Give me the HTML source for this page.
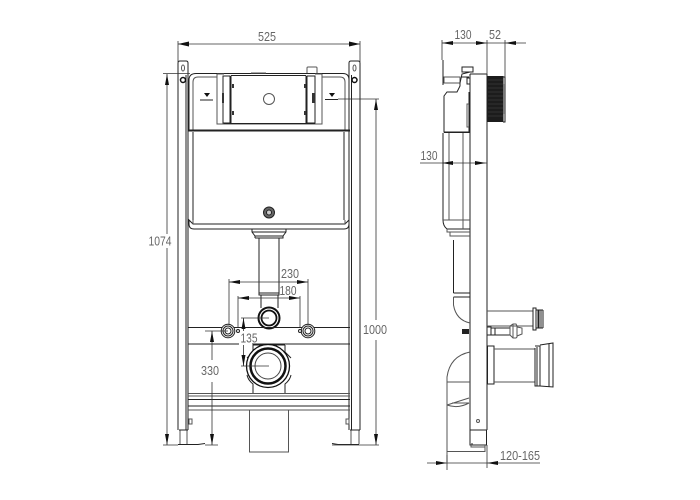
<!DOCTYPE html>
<html><head><meta charset="utf-8"><style>
html,body{margin:0;padding:0;background:#fff}
svg{display:block;filter:blur(.3px)}
text{font-family:"Liberation Sans",sans-serif;font-size:12.500px;fill:#666;text-anchor:middle}
.g{fill:none;stroke:#555;stroke-width:1}
.k{fill:none;stroke:#222;stroke-width:1}
.t{fill:none;stroke:#222;stroke-width:2}
.d{fill:none;stroke:#333;stroke-width:.8}
.a{fill:#111;stroke:none}
.w{fill:#fff;stroke:none}
</style></head><body>
<svg width="700" height="500" viewBox="0 0 700 500" xmlns="http://www.w3.org/2000/svg">
<!-- FRONT frame -->
<g class="k">
<path d="M178 73V430M188 66V430M186 75V430M349 66V430M360 73V430M351.500 75V430"/>
<path d="M178 73V63Q178 61 180 61H186Q188 61 188 63V73M349 73V63Q349 61 351 61H358Q360 61 360 63V73"/>
<path class="g" d="M180 430V444M187 430V444M351 430V444M359 430V444"/>
<path d="M179 430H188M350 430H360"/>
<path d="M178 444.500H198L205 443.500M332 443.500L338 444.500H359" />
<rect x="189" y="419" width="3" height="5" class="g"/><rect x="346" y="419" width="3" height="5" class="g"/>
</g>
<circle cx="183" cy="80" r="2.500" fill="#fff" stroke="#111" stroke-width="1.500"/>
<circle cx="354.500" cy="80" r="2.500" fill="#fff" stroke="#111" stroke-width="1.500"/>
<ellipse cx="183" cy="68" rx="1.500" ry="3" class="g"/><ellipse cx="354.500" cy="68" rx="1.500" ry="3" class="g"/>
<!-- tank -->
<path class="k" d="M189 130V80Q189 73.500 196 73.500H343Q349 73.500 349 80V130"/>
<path class="g" d="M193 130V82Q193 77 198 77H217M322 77H340Q345 77 345 82V130"/>
<path class="t" d="M188 130.500H350"/>
<path class="k" d="M193 132V220M344 132V220"/>
<path class="k" d="M189 220V224Q189 229 194 229H344Q349 229 349 224V220L345 224H193L189 220Z"/>
<path class="g" d="M193 220V224M345 220V224"/>
<path class="g" d="M251 73H266" stroke-width="1.500"/>
<path class="g" d="M307 73V68Q307 67 308 67H316Q317 67 317 68V73"/>
<!-- control panel -->
<path class="g" d="M217 74V124H322V74M217 74H224M315 74H322"/>
<path class="k" d="M223 76V123H230V76ZM307 76V123H315V76Z"/>
<path class="k" d="M231 75.500H306M224 123.500H315" stroke-width="1.300"/>
<path class="k" d="M231 76V123M306 76V123" stroke-width="1.300"/>
<circle cx="269" cy="99" r="5.500" class="g"/>
<path d="M232 84h2v4h-2zM232 111h2v4h-2zM304 84h2v4h-2zM304 111h2v4h-2z" fill="#333"/>
<path d="M222 93h2v10h-2zM312 93h3v10h-3z" fill="#333"/>
<path class="k" d="M200 100H213M325 99.500H338" stroke-width="1.200"/>
<path class="a" d="M204 93H210L207 97ZM329 93H335L332 97Z"/>
<circle cx="269" cy="212.500" r="5.500" fill="#666" stroke="#222"/>
<circle cx="269" cy="212.500" r="2.500" fill="#ccc" stroke="#222"/>
<!-- drain -->
<path class="k" d="M252 229V232L255 236H283L286 232V229M252 232H286M255 238H283V236M255 236V238"/>
<path class="k" d="M259 238V295H279V238M259 293H279"/>
<path class="k" d="M261 295V308M278 295V308"/>
<circle cx="269" cy="318" r="10.500" fill="#fff" stroke="#111" stroke-width="2"/>
<circle cx="269" cy="318" r="7.500" fill="#fff" stroke="#111" stroke-width="1.800"/>
<!-- bar -->
<path class="k" d="M188 327.500H350" stroke-width="1.500"/>
<path class="k" d="M188 344H239M252 344H350" stroke-width="1.500"/>
<g fill="#fff" stroke="#222">
<circle cx="228" cy="331" r="6.800"/><circle cx="228" cy="331" r="5"/><circle cx="228" cy="331" r="3"/>
<circle cx="308" cy="331" r="6.800"/><circle cx="308" cy="331" r="5"/><circle cx="308" cy="331" r="3"/>
<circle cx="238" cy="331" r="1.500"/><circle cx="300" cy="331" r="1.500"/>
</g>
<!-- large outlet -->
<path class="k" d="M253 345V352H285V345M253 345H285M247 375Q248 380 253 384V393M291 375Q290 380 285 384V393M247 358L253 352M291 358L285 352"/>
<circle cx="268" cy="366" r="21.500" fill="#fff" stroke="#111" stroke-width="1.300"/>
<circle cx="268" cy="366" r="17.500" fill="#fff" stroke="#111" stroke-width="2.500"/>
<circle cx="268" cy="366" r="13" fill="#fff" stroke="#444" stroke-width="1"/>
<path class="g" d="M188 393.500H350M188 396H350"/>
<path class="k" d="M188 399.500H350" stroke-width="1.300"/>
<path class="k" d="M188 406H350" stroke-width="1.300"/>
<path class="g" d="M188 410H350"/>
<path class="g" d="M249.500 410V452H288.500V410"/>
<!-- front dims -->
<g class="d">
<path d="M178 41V62M360 41V62M178 44H360"/>
<path d="M163 73.500H190M167 74V234M167 248V445M163 445H178"/>
<path d="M338 99H379M376 99V320M376 340V445M332 445H379"/>
<path d="M229 279V325M238 296V327M300 296V327M308 279V325M229 282H308M238 298H300"/>
<path d="M241 318H269M241 366H269M243.500 318V331M243.500 345V366"/>
<path d="M205 331H228M212 331V360M212 382V445M205 445H218"/>
</g>
<g class="a">
<path d="M178 44L189 41.500V46.500ZM360 44L349 41.500V46.500Z"/>
<path d="M167 74L165 85H169ZM167 445L165 434H169Z"/>
<path d="M376 99L374 110H378ZM376 445L374 434H378Z"/>
<path d="M229 282L240 280V284ZM308 282L297 280V284ZM238 298L249 296V300ZM300 298L289 296V300Z"/>
<path d="M243.500 318L241.500 329H245.500ZM243.500 366L241.500 355H245.500Z"/>
<path d="M212 331L210 342H214ZM212 445L210 434H214Z"/>
</g>
<text x="267" y="41" textLength="18" lengthAdjust="spacingAndGlyphs">525</text>
<text x="160" y="245.500" textLength="23" lengthAdjust="spacingAndGlyphs">1074</text>
<text x="375" y="334" textLength="24" lengthAdjust="spacingAndGlyphs">1000</text>
<text x="290" y="278" textLength="18" lengthAdjust="spacingAndGlyphs">230</text>
<text x="288" y="295" textLength="17" lengthAdjust="spacingAndGlyphs">180</text>
<text x="249" y="342.500" textLength="17" lengthAdjust="spacingAndGlyphs">135</text>
<text x="210" y="375" textLength="18" lengthAdjust="spacingAndGlyphs">330</text>
<!-- SIDE -->
<path class="k" d="M470 74V430M487 74V430M470 74H487"/>
<path class="k" d="M470 430H486.500V445H470ZM472 443V445"/>
<path class="g" d="M447 451.500H485V445M471 445V447H485"/>
<circle cx="478" cy="421" r="1.500" class="g"/>
<!-- flush plate/top -->
<path class="k" d="M443 60V85" stroke-width="2"/>
<path class="g" d="M444 77H460V83H444Z"/>
<path class="k" d="M460 83L462 74L470 72M462 67H473V72H462Z"/>
<path class="k" d="M460 83V86L457 92H447L444 96V132H469V92M461 77L469 77"/>
<rect x="467" y="78" width="3" height="6" fill="#fff" stroke="#222"/>
<path class="g" d="M469 104H467V127H469"/>
<!-- tank side -->
<path class="k" d="M443 133V220Q443 226 447 229H470M444 132.500H470" />
<path class="g" d="M449 133V220M463 133V229M443 220H470M447 229V232H470M450 232V236H470"/>
<path class="k" d="M453.500 240V293"/>
<!-- black block -->
<rect x="487.500" y="76" width="16" height="46" fill="#1c1c1c"/>
<path stroke="#555" stroke-width=".4" d="M488 80H503M488 84H503M488 88H503M488 92H503M488 96H503M488 100H503M488 104H503M488 108H503M488 112H503M488 116H503"/>
<path class="k" d="M503 77H505V122H503"/>
<rect x="503" y="84" width="2" height="30" fill="#777"/>
<!-- lower side -->
<path class="k" d="M453.500 293H470M453.500 297H470" stroke-width="1.300"/>
<path class="g" d="M453.500 297V305Q456 320 470 323"/>
<rect x="462" y="329" width="7" height="5" fill="#222"/>
<path class="g" d="M470 352Q450 356 447 377V462M447 382H470"/>
<path class="g" d="M447 405L469 398M447 405Q458 409 469 403M452 403H469"/>
<!-- right pipes -->
<path class="g" d="M487 311H533M487 326H533"/>
<path class="k" d="M533 308V330H536V308ZM536 310H538V328H536M539 310V328M541 310V328M543 310V328M536 310H543M536 328H543" stroke-width=".9"/>
<path class="k" d="M487 327H491V335H487ZM491 328H510V335H491M495 328V335"/>
<path class="g" d="M510 326L513 324H516L517 326V337L516 338H513L510 335ZM517 327L522 328V334L517 336M513 324V338"/>
<path class="k" d="M487.500 346H494V384H487.500Z"/>
<path class="g" d="M494 349H535M494 382H535"/>
<path class="k" d="M535 348V386H540V346H535M537 347V386" />
<path class="k" d="M540 345L553 343V387L540 386M549 344V387" stroke-width=".9"/>
<!-- side dims -->
<g class="d">
<path d="M442 40V60M487 40V74M505 40V77M442 43H526"/>
<path d="M420 163H487"/>
<path d="M447 455V470M487 445V468M427 463H540"/>
</g>
<g class="a">
<path d="M442 43L453 41V45ZM487 43L476 41V45ZM505 43L516 41V45Z"/>
<path d="M443 163L454 161V165ZM487 163L476 161V165Z" transform="translate(-1 0)"/>
<path d="M447 463L436 461V465ZM487 463L498 461V465Z"/>
</g>
<text x="463" y="39" textLength="17" lengthAdjust="spacingAndGlyphs">130</text>
<text x="495" y="39" textLength="12" lengthAdjust="spacingAndGlyphs">52</text>
<text x="429" y="160" textLength="17" lengthAdjust="spacingAndGlyphs">130</text>
<text x="520" y="460" textLength="40" lengthAdjust="spacingAndGlyphs">120-165</text>
</svg>
</body></html>
